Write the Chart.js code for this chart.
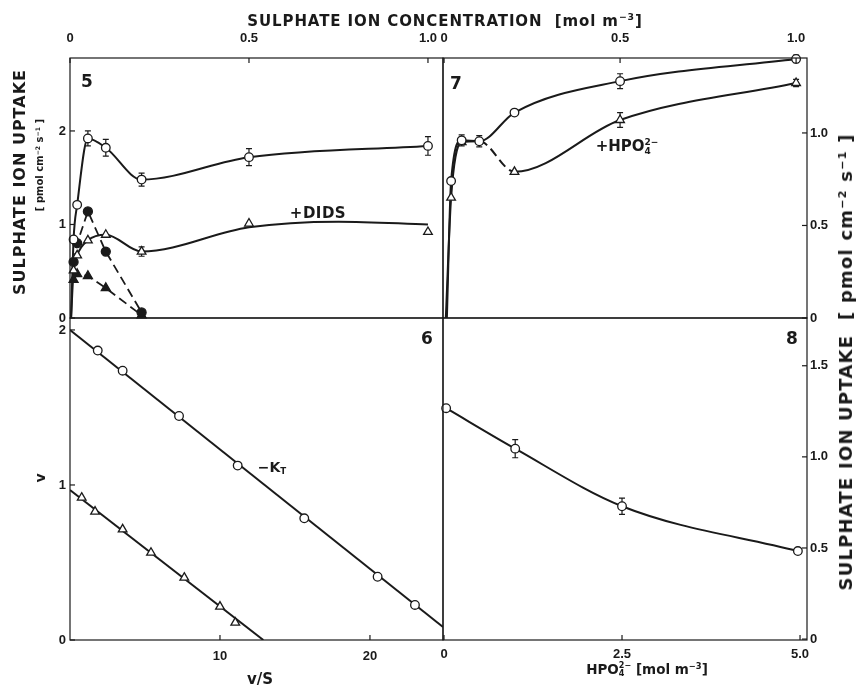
<!DOCTYPE html>
<html><head><meta charset="utf-8">
<script src="https://cdn.jsdelivr.net/npm/chart.js@4.4.1/dist/chart.umd.min.js"></script>
<style>
html,body{margin:0;padding:0;background:#fff;}
#wrap{position:relative;width:858px;height:689px;overflow:hidden;background:#fff;}
#wrap canvas{position:absolute;left:0;top:0;}
.t{position:absolute;font-family:"DejaVu Sans",sans-serif;font-weight:bold;color:#1a1a1a;white-space:nowrap;line-height:1;transform:translate(-50%,-50%);}
.rot{transform:translate(-50%,-50%) rotate(-90deg);}
sup{font-size:0.62em;vertical-align:0.55em;line-height:0;}
sub{font-size:0.62em;vertical-align:-0.25em;line-height:0;}
.ss{display:inline-block;vertical-align:-0.3em;font-size:0.6em;line-height:0.95;text-align:left;}
.ss span{display:block;}
</style></head>
<body><div id="wrap">
<canvas id="c5" width="858" height="689"></canvas>
<canvas id="c7" width="858" height="689"></canvas>
<canvas id="c6" width="858" height="689"></canvas>
<canvas id="c8" width="858" height="689"></canvas>

<div class="t" style="left:445px;top:21px;font-size:15px;letter-spacing:0.9px;">SULPHATE ION CONCENTRATION&nbsp;&nbsp;[mol m<sup>−3</sup>]</div>
<div class="t rot" style="left:20px;top:182px;font-size:16px;letter-spacing:1px;">SULPHATE ION UPTAKE</div>
<div class="t rot" style="left:40px;top:165px;font-size:10px;">[ pmol cm<sup>−2</sup> s<sup>−1</sup> ]</div>
<div class="t rot" style="left:40px;top:478px;font-size:14px;">v</div>
<div class="t rot" style="left:846px;top:362px;font-size:18px;letter-spacing:1.2px;">SULPHATE ION UPTAKE&nbsp;&nbsp;[ pmol cm<sup>−2</sup> s<sup>−1</sup> ]</div>
<div class="t" style="left:260px;top:679px;font-size:15px;">v/S</div>
<div class="t" style="left:647px;top:670px;font-size:13.5px;">HPO<span class="ss"><span>2−</span><span>4</span></span>&nbsp;[mol m<sup>−3</sup>]</div>
<div class="t" style="left:87px;top:81px;font-size:17px;">5</div>
<div class="t" style="left:456px;top:83px;font-size:17px;">7</div>
<div class="t" style="left:427px;top:338px;font-size:17px;">6</div>
<div class="t" style="left:792px;top:338px;font-size:17px;">8</div>
<div class="t" style="left:318px;top:213px;font-size:15px;letter-spacing:0.5px;">+DIDS</div>
<div class="t" style="left:272px;top:467px;font-size:14px;">−K<sub>T</sub></div>
<div class="t" style="left:627px;top:147px;font-size:15px;">+HPO<span class="ss"><span>2−</span><span>4</span></span></div>
</div>
<script>
const INK = "#1a1a1a";
const TICKFONT = {family:"Liberation Sans", weight:"bold", size:13};
const AX = 30;

// ---------- Panel 5: uptake vs sulphate concentration ----------
const p5Conc = [0.01, 0.02, 0.05, 0.1, 0.2, 0.5, 1.0];
const p5Control = [0.84, 1.21, 1.92, 1.82, 1.48, 1.72, 1.84];
const p5ControlErr = [0, 0, 0.08, 0.09, 0.07, 0.09, 0.10];
const p5CtrlCurveX = [0.003, 0.01, 0.02, 0.05, 0.1, 0.2, 0.5, 1.0];
const p5CtrlCurveY = [0, 0.84, 1.21, 1.92, 1.82, 1.48, 1.72, 1.84];
const p5Dids = [0.51, 0.67, 0.83, 0.89, 0.71, 1.01, 0.92];
const p5DidsErr = [0, 0, 0, 0, 0.05, 0, 0];
const p5DidsCurveX = [0.003, 0.01, 0.02, 0.05, 0.1, 0.2, 0.5, 0.75, 1.0];
const p5DidsCurveY = [0, 0.51, 0.67, 0.83, 0.89, 0.71, 0.97, 1.03, 1.0];
const p5FilledConc = [0.01, 0.02, 0.05, 0.1, 0.2];
const p5FilledCircle = [0.60, 0.80, 1.14, 0.71, 0.06];
const p5FilledTri = [0.41, 0.47, 0.45, 0.32, 0.03];
const p5XTicks = [0, 0.5, 1.0], p5XLabels = ["0", "0.5", "1.0"];
const p5YTicks = [0, 1, 2], p5YLabels = ["0", "1", "2"];

// ---------- Panel 7: uptake vs sulphate, +HPO4 ----------
const p7Conc = [0.02, 0.05, 0.1, 0.2, 0.5, 1.0];
const p7Control = [0.74, 0.96, 0.955, 1.11, 1.28, 1.40];
const p7ControlErr = [0, 0.03, 0.03, 0, 0.04, 0.02];
const p7CtrlCurveX = [0.008, 0.02, 0.05, 0.1, 0.2, 0.5, 1.0];
const p7CtrlCurveY = [0, 0.74, 0.96, 0.955, 1.11, 1.28, 1.40];
const p7HpoConc = [0.02, 0.05, 0.2, 0.5, 1.0];
const p7Hpo = [0.65, 0.95, 0.79, 1.07, 1.27];
const p7HpoErr = [0, 0, 0, 0.04, 0.02];
const p7HpoCurveX = [0.005, 0.02, 0.05, 0.1, 0.2, 0.5, 1.0];
const p7HpoCurveY = [0, 0.65, 0.95, 0.955, 0.79, 1.07, 1.27];
const p7XTicks = [0, 0.5, 1.0], p7XLabels = ["0", "0.5", "1.0"];
const p7YTicks = [0, 0.5, 1.0], p7YLabels = ["0", "0.5", "1.0"];

// ---------- Panel 6: Eadie-Hofstee v vs v/S ----------
const p6CtrlX = [1.85, 3.51, 7.27, 11.18, 15.62, 20.51, 23.0];
const p6CtrlY = [1.867, 1.737, 1.445, 1.125, 0.785, 0.408, 0.226];
const p6CtrlFitX = [0, 24.87], p6CtrlFitY = [2.0, 0.084];
const p6DidsX = [0.78, 1.67, 3.51, 5.4, 7.62, 10.0, 11.02];
const p6DidsY = [0.918, 0.828, 0.714, 0.563, 0.402, 0.215, 0.112];
const p6DidsFitX = [0, 12.89], p6DidsFitY = [0.968, 0];
const p6XTicks = [10, 20], p6XLabels = ["10", "20"];
const p6YTicks = [0, 1, 2], p6YLabels = ["0", "1", "2"];

// ---------- Panel 8: uptake vs HPO4 ----------
const p8Hpo = [0.03, 1.0, 2.5, 4.97];
const p8Uptake = [1.267, 1.045, 0.729, 0.483];
const p8Err = [0, 0.05, 0.045, 0];
const p8XTicks = [0, 2.5, 5.0], p8XLabels = ["0", "2.5", "5.0"];
const p8YTicks = [0, 0.5, 1.0, 1.5], p8YLabels = ["0", "0.5", "1.0", "1.5"];

const pts = (xs, ys) => xs.map((x, i) => ({x, y: ys[i]}));

function markers(xs, ys, style, filled, r, errs) {
  return {data: pts(xs, ys), showLine: false, pointStyle: style, pointRadius: r, pointHoverRadius: r,
    pointBackgroundColor: filled ? INK : "#fff", pointBorderColor: INK, pointBorderWidth: 1.3,
    errorBars: errs || null, clip: false, order: 0};
}
function curve(xs, ys, extra) {
  return Object.assign({data: pts(xs, ys), showLine: true, pointRadius: 0, pointHoverRadius: 0,
    borderColor: INK, borderWidth: 2, cubicInterpolationMode: "monotone", fill: false, order: 1}, extra || {});
}
function axis(pos, min, max, ticks, labels, pad) {
  const horiz = pos === "top" || pos === "bottom";
  return {type: "linear", position: pos, min, max, bounds: "data",
    grid: {display: false, drawTicks: false}, border: {display: false},
    ticks: {font: TICKFONT, color: INK, padding: pad, autoSkip: false, maxRotation: 0, minRotation: 0,
      callback: (v, i) => labels[i]},
    afterBuildTicks: s => { s.ticks = ticks.map(v => ({value: v})); },
    afterFit: s => { if (horiz) s.height = AX; else s.width = AX; }};
}

const errorBarPlugin = {
  id: "errbars",
  beforeDatasetsDraw(chart) {
    const {ctx} = chart, xs = chart.scales.x, ys = chart.scales.y;
    chart.data.datasets.forEach(ds => {
      if (!ds.errorBars) return;
      ds.data.forEach((p, i) => {
        const e = ds.errorBars[i]; if (!e) return;
        const px = xs.getPixelForValue(p.x), y1 = ys.getPixelForValue(p.y + e), y2 = ys.getPixelForValue(p.y - e);
        ctx.save(); ctx.strokeStyle = INK; ctx.lineWidth = 1.2; ctx.beginPath();
        ctx.moveTo(px, y1); ctx.lineTo(px, y2);
        ctx.moveTo(px - 3, y1); ctx.lineTo(px + 3, y1);
        ctx.moveTo(px - 3, y2); ctx.lineTo(px + 3, y2);
        ctx.stroke(); ctx.restore();
      });
    });
  }
};
const framePlugin = {
  id: "frame",
  afterDatasetsDraw(chart) {
    const {ctx, chartArea: a} = chart;
    ctx.save(); ctx.strokeStyle = INK; ctx.lineWidth = 1.2;
    ctx.strokeRect(a.left, a.top, a.right - a.left, a.bottom - a.top);
    Object.values(chart.scales).forEach(s => {
      s.ticks.forEach(t => {
        const p = s.getPixelForValue(t.value);
        ctx.beginPath();
        if (s.position === "left") { ctx.moveTo(a.left, p); ctx.lineTo(a.left + 5, p); }
        else if (s.position === "right") { ctx.moveTo(a.right, p); ctx.lineTo(a.right - 5, p); }
        else if (s.position === "top") { ctx.moveTo(p, a.top); ctx.lineTo(p, a.top + 5); }
        else { ctx.moveTo(p, a.bottom); ctx.lineTo(p, a.bottom - 5); }
        ctx.stroke();
      });
    });
    ctx.restore();
  }
};

function makeChart(id, padding, scales, datasets) {
  return new Chart(document.getElementById(id), {
    type: "scatter",
    data: {datasets},
    options: {responsive: false, animation: false, devicePixelRatio: 1, events: [],
      layout: {padding},
      plugins: {legend: {display: false}, tooltip: {enabled: false}},
      scales},
    plugins: [errorBarPlugin, framePlugin]
  });
}

const DASH = [9, 5];

// Panel 5
makeChart("c5", {left: 70 - AX, top: 58 - AX, right: 858 - 443, bottom: 689 - 318},
  {x: axis("top", 0, 1.042, p5XTicks, p5XLabels, 12), y: axis("left", 0, 2.78, p5YTicks, p5YLabels, 4)},
  [
    markers(p5Conc, p5Control, "circle", false, 4.3, p5ControlErr),
    markers(p5Conc, p5Dids, "triangle", false, 5, p5DidsErr),
    markers(p5FilledConc, p5FilledCircle, "circle", true, 4.5),
    markers(p5FilledConc, p5FilledTri, "triangle", true, 5.2),
    curve(p5CtrlCurveX, p5CtrlCurveY),
    curve(p5DidsCurveX, p5DidsCurveY),
    curve(p5FilledConc, p5FilledCircle, {borderDash: DASH, tension: 0, cubicInterpolationMode: "default", borderWidth: 1.8}),
    curve(p5FilledConc, p5FilledTri, {borderDash: DASH, tension: 0, cubicInterpolationMode: "default", borderWidth: 1.8})
  ]);

// Panel 7
makeChart("c7", {left: 443, top: 58 - AX, right: 858 - 807 - AX, bottom: 689 - 318},
  {x: axis("top", -0.003, 1.031, p7XTicks, p7XLabels, 12), y: axis("right", 0, 1.405, p7YTicks, p7YLabels, 3)},
  [
    markers(p7Conc, p7Control, "circle", false, 4.3, p7ControlErr),
    markers(p7HpoConc, p7Hpo, "triangle", false, 5, p7HpoErr),
    curve(p7CtrlCurveX, p7CtrlCurveY),
    curve(p7HpoCurveX, p7HpoCurveY, {segment: {borderDash: c => c.p0DataIndex === 3 ? DASH : undefined}})
  ]);

// Panel 6
makeChart("c6", {left: 70 - AX, top: 318, right: 858 - 443, bottom: 689 - 640 - AX},
  {x: axis("bottom", 0, 24.87, p6XTicks, p6XLabels, 9), y: axis("left", 0, 2.077, p6YTicks, p6YLabels, 4)},
  [
    markers(p6CtrlX, p6CtrlY, "circle", false, 4.3),
    markers(p6DidsX, p6DidsY, "triangle", false, 5),
    curve(p6CtrlFitX, p6CtrlFitY, {tension: 0, cubicInterpolationMode: "default"}),
    curve(p6DidsFitX, p6DidsFitY, {tension: 0, cubicInterpolationMode: "default"})
  ]);

// Panel 8
makeChart("c8", {left: 443, top: 318, right: 858 - 807 - AX, bottom: 689 - 640 - AX},
  {x: axis("bottom", -0.014, 5.098, p8XTicks, p8XLabels, 7), y: axis("right", -0.005, 1.762, p8YTicks, p8YLabels, 3)},
  [
    markers(p8Hpo, p8Uptake, "circle", false, 4.3, p8Err),
    curve(p8Hpo, p8Uptake)
  ]);
</script>
</body></html>
